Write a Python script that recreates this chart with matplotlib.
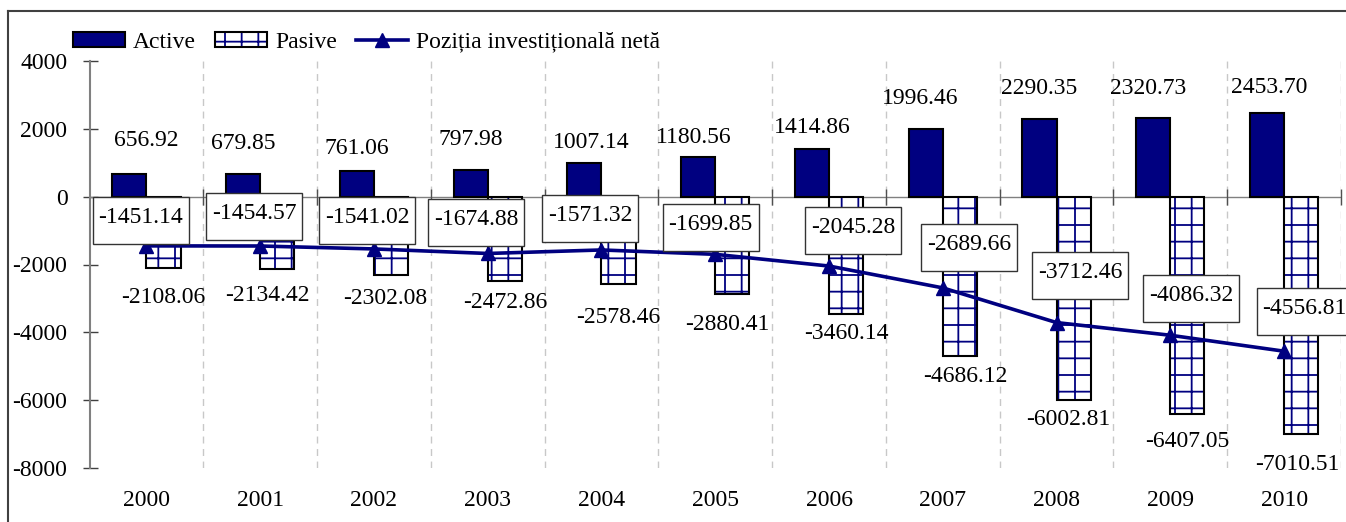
import matplotlib
matplotlib.use('Agg')
import matplotlib.pyplot as plt
from matplotlib.patches import Rectangle, Patch
from matplotlib.lines import Line2D
import numpy as np

plt.rcParams['font.family'] = ['Liberation Serif', 'DejaVu Serif']
plt.rcParams['hatch.linewidth'] = 1.3

# ---------------- data ----------------
years = ['2000', '2001', '2002', '2003', '2004', '2005', '2006', '2007', '2008', '2009', '2010']
active = [656.92, 679.85, 761.06, 797.98, 1007.14, 1180.56, 1414.86, 1996.46, 2290.35, 2320.73, 2453.70]
pasive = [-2108.06, -2134.42, -2302.08, -2472.86, -2578.46, -2880.41, -3460.14, -4686.12,
          -6002.81, -6407.05, -7010.51]
net = [-1451.14, -1454.57, -1541.02, -1674.88, -1571.32, -1699.85, -2045.28, -2689.66,
       -3712.46, -4086.32, -4556.81]
yticks = [4000, 2000, 0, -2000, -4000, -6000, -8000]
series_names = ['Active', 'Pasive', 'Poziția investițională netă']

# manual label placement (as in the source chart)
active_lbl_y = [1655, 1567, 1419, 1685, 1596, 1744, 2040, 2897, 3192, 3192, 3222]
active_lbl_dx = [0.15, 0, 0, 0, 0.06, -0.035, 0, -0.05, 0, -0.045, 0.02]
pasive_lbl_y = [-2985, -2926, -3015, -3133, -3577, -3755, -4021, -5292, -6562, -7213, -7893]
pasive_lbl_dx = [0, -0.09, -0.05, 0, 0, -0.045, 0, 0.05, -0.05, 0, -0.03]
net_lbl_y = [-709, -591, -709, -769, -650, -916, -1005, -1508, -2335, -3015, -3399]
net_lbl_dx = [-0.05, -0.05, -0.06, -0.10, -0.10, -0.04, 0.21, 0.23, 0.21, 0.18, 0.18]

# ---------------- figure ----------------
W, H, DPI = 1346, 522, 100
FS = 17
NAVY = '#000080'
fig = plt.figure(figsize=(W / DPI, H / DPI), dpi=DPI)
ax_l, ax_r, ax_t, ax_b = 89.5, 1341, 61, 468
ax = fig.add_axes([ax_l / W, 1 - ax_b / H, (ax_r - ax_l) / W, (ax_b - ax_t) / H])

x = np.arange(len(years))
bw = 0.3
ax.set_xlim(-0.5, len(years) - 0.5)
ax.set_ylim(-8000, 4000)

# grid lines at category boundaries
ax.vlines(x + 0.5, -8000, 4000, colors='#c8c8c8', linestyles=(0, (5, 4)), lw=1.0, zorder=1)
# zero line with boundary ticks
ax.axhline(0, color='#808080', lw=1.0, zorder=2)
ax.plot(x + 0.5, np.zeros(len(x)), ls='none', marker='|', ms=11, mew=1.0, color='#505050', zorder=2, clip_on=False)

ax.bar(x - bw / 2, active, bw, color=NAVY, edgecolor='black', linewidth=1.5, zorder=3)
ax.bar(x + bw / 2, pasive, bw, color='white', edgecolor=NAVY, hatch='+', linewidth=0, zorder=3)
ax.bar(x + bw / 2, pasive, bw, fill=False, edgecolor='black', linewidth=1.5, zorder=3)
ax.plot(x, net, color=NAVY, lw=2.6, marker='^', ms=10, zorder=5)

# axes styling
for s in ['top', 'right', 'bottom']:
    ax.spines[s].set_visible(False)
ax.spines['left'].set_color('#808080')
ax.spines['left'].set_linewidth(1.5)
ax.set_yticks(yticks)
ax.set_yticklabels([str(v) for v in yticks], fontsize=FS)
ax.tick_params(axis='y', direction='inout', length=10.8, width=1, color='#404040', pad=10.5)
ax.set_xticks(x)
ax.set_xticklabels(years, fontsize=FS)
ax.tick_params(axis='x', length=0, pad=16)

# data labels
for i in range(len(x)):
    ax.text(x[i] - bw / 2 + active_lbl_dx[i], active_lbl_y[i], f'{active[i]:.2f}',
            ha='center', va='center', fontsize=FS, zorder=6, clip_on=False)
    ax.text(x[i] + bw / 2 + pasive_lbl_dx[i], pasive_lbl_y[i], f'{pasive[i]:.2f}',
            ha='center', va='center', fontsize=FS, zorder=6, clip_on=False)

px_per_cat = (ax_r - ax_l) / len(years)
px_per_unit = (ax_b - ax_t) / 12000.0
box_w = 96 / px_per_cat
box_h = 47 / px_per_unit
for i in range(len(x)):
    cx = x[i] + net_lbl_dx[i]
    cy = net_lbl_y[i]
    ax.add_patch(Rectangle((cx - box_w / 2, cy - box_h / 2), box_w, box_h, facecolor='white',
                           edgecolor='#333333', lw=1.0, zorder=7, clip_on=False))
    ax.text(cx, cy + 3 / px_per_unit, f'{net[i]:.2f}', ha='center', va='center', fontsize=FS,
            zorder=8, clip_on=False)

# legend
h_act = Patch(facecolor=NAVY, edgecolor='black', linewidth=1.5)
h_pas = (Patch(facecolor='white', edgecolor=NAVY, hatch='+', linewidth=0),
         Patch(fill=False, edgecolor='black', linewidth=1.5))
h_net = Line2D([], [], color=NAVY, lw=2.6, marker='^', ms=10)
fig.legend([h_act, h_pas, h_net], series_names, loc='center left',
           bbox_to_anchor=(73 / W, 1 - 42 / H), bbox_transform=fig.transFigure,
           ncol=3, frameon=False, prop={'size': FS}, handlelength=2.2, handleheight=0.6,
           handletextpad=0.35, columnspacing=0.8, borderpad=0, borderaxespad=0)

# outer frame (left and top edges visible)
fig.add_artist(Line2D([8 / W, 8 / W], [0, 1 - 11 / H], transform=fig.transFigure, color='#404040', lw=1.5))
fig.add_artist(Line2D([8 / W, 1], [1 - 11 / H, 1 - 11 / H], transform=fig.transFigure, color='#404040', lw=1.5))

fig.savefig('out.png', dpi=DPI)
